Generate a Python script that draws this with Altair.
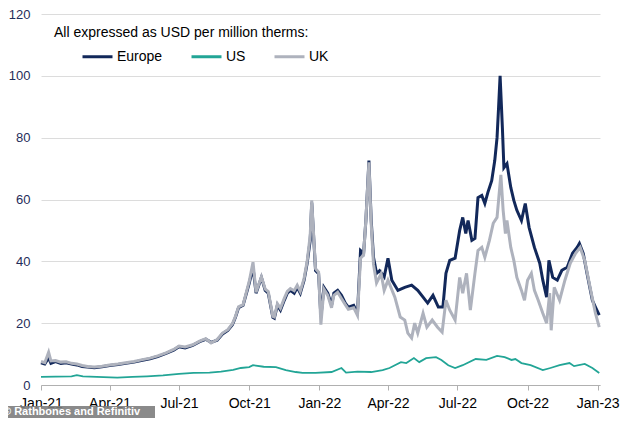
import altair as alt
import pandas as pd

SERIES = ["Europe", "US", "UK"]
COLORS = ["#12285a", "#22a596", "#aeb2bd"]
TITLE = "All expressed as USD per million therms:"
FOOTER = "© Rathbones and Refinitiv"
Y_TICKS = [0, 20, 40, 60, 80, 100, 120]

EU_DATES = [
    "2021-01-01", "2021-01-06", "2021-01-11", "2021-01-14", "2021-01-20", "2021-01-27",
    "2021-02-03", "2021-02-10", "2021-02-17", "2021-02-24",
    "2021-03-03", "2021-03-12", "2021-03-22",
    "2021-04-01", "2021-04-12", "2021-04-22",
    "2021-05-03", "2021-05-14", "2021-05-24",
    "2021-06-03", "2021-06-14", "2021-06-24",
    "2021-07-01", "2021-07-09", "2021-07-19", "2021-07-28",
    "2021-08-05", "2021-08-12", "2021-08-20", "2021-08-27",
    "2021-09-03", "2021-09-09", "2021-09-13", "2021-09-17", "2021-09-23",
    "2021-10-01", "2021-10-06", "2021-10-10", "2021-10-17", "2021-10-22", "2021-10-26",
    "2021-11-01", "2021-11-03", "2021-11-07", "2021-11-11", "2021-11-16", "2021-11-20", "2021-11-24", "2021-11-29",
    "2021-12-03", "2021-12-07", "2021-12-12", "2021-12-16", "2021-12-20", "2021-12-22", "2021-12-27", "2021-12-31",
    "2022-01-03", "2022-01-07", "2022-01-12", "2022-01-17", "2022-01-20", "2022-01-25", "2022-01-30",
    "2022-02-04", "2022-02-08", "2022-02-15", "2022-02-20", "2022-02-24", "2022-02-28",
    "2022-03-03", "2022-03-07", "2022-03-10", "2022-03-13", "2022-03-17", "2022-03-21", "2022-03-27",
    "2022-04-01", "2022-04-06", "2022-04-14", "2022-04-23",
    "2022-05-02", "2022-05-10", "2022-05-17", "2022-05-23", "2022-05-30",
    "2022-06-06", "2022-06-12", "2022-06-16", "2022-06-21", "2022-06-28",
    "2022-07-04", "2022-07-08", "2022-07-12", "2022-07-15", "2022-07-20", "2022-07-24", "2022-07-28",
    "2022-08-02", "2022-08-06", "2022-08-10", "2022-08-15", "2022-08-19", "2022-08-22", "2022-08-24", "2022-08-26", "2022-08-29", "2022-08-31",
    "2022-09-04", "2022-09-09", "2022-09-13", "2022-09-17", "2022-09-23", "2022-09-28",
    "2022-10-03", "2022-10-10", "2022-10-17", "2022-10-21", "2022-10-26", "2022-10-29",
    "2022-11-03", "2022-11-09", "2022-11-15", "2022-11-22", "2022-11-29",
    "2022-12-05", "2022-12-08", "2022-12-13", "2022-12-18", "2022-12-25", "2022-12-29",
    "2023-01-03",
]
EU_VALUES = [
    7.2, 6.8, 8.8, 7.0, 7.6, 7.0,
    7.2, 6.8, 6.5, 6.0,
    5.8, 5.6, 5.9,
    6.3, 6.6, 7.0,
    7.4, 8.0, 8.5,
    9.2, 10.2, 11.3,
    12.4, 12.0, 12.8, 14.0,
    14.8, 13.8, 14.5, 16.5,
    17.7, 19.5, 21.9, 25.0, 25.8,
    32.9, 38.0, 29.7, 34.8, 30.6, 29.7,
    21.9, 21.6, 25.8, 24.2, 27.4, 29.7, 30.6, 29.7,
    31.6, 29.7, 33.9, 39.4, 46.8, 59.0, 37.0, 36.0,
    22.0, 31.6, 29.7, 25.8, 29.7, 30.6, 29.0,
    26.5, 25.2, 25.8, 23.2, 43.5, 42.6,
    53.2, 72.6, 53.2, 41.3, 36.1, 37.0, 35.0,
    41.0, 33.9, 30.6, 31.6,
    32.3, 30.6, 28.4, 26.5, 29.0,
    25.2, 25.2, 36.1, 40.3, 41.0,
    50.0, 54.2, 49.0, 53.2, 46.8, 47.4, 60.6,
    61.3, 58.7, 62.3, 66.1, 72.6, 80.0, 89.7, 100.0, 83.2, 70.3,
    71.6, 63.9, 59.7, 56.5, 53.2, 58.7,
    51.0, 44.5, 39.4, 33.9, 28.4, 40.3,
    34.8, 33.9, 37.1, 38.1, 42.6,
    44.5, 45.8, 42.6, 36.1, 27.4, 25.2,
    22.6,
]

UK_DATES = [
    "2021-01-01", "2021-01-06", "2021-01-11", "2021-01-14", "2021-01-20", "2021-01-27",
    "2021-02-03", "2021-02-10", "2021-02-17", "2021-02-24",
    "2021-03-03", "2021-03-12", "2021-03-22",
    "2021-04-01", "2021-04-12", "2021-04-22",
    "2021-05-03", "2021-05-14", "2021-05-24",
    "2021-06-03", "2021-06-14", "2021-06-24",
    "2021-07-01", "2021-07-09", "2021-07-19", "2021-07-28",
    "2021-08-05", "2021-08-12", "2021-08-20", "2021-08-27",
    "2021-09-03", "2021-09-09", "2021-09-13", "2021-09-17", "2021-09-23",
    "2021-10-01", "2021-10-06", "2021-10-10", "2021-10-17", "2021-10-22", "2021-10-26",
    "2021-11-01", "2021-11-03", "2021-11-07", "2021-11-11", "2021-11-16", "2021-11-20", "2021-11-24", "2021-11-29",
    "2021-12-03", "2021-12-07", "2021-12-12", "2021-12-16", "2021-12-20", "2021-12-22", "2021-12-27", "2021-12-31",
    "2022-01-03", "2022-01-07", "2022-01-12", "2022-01-17", "2022-01-20", "2022-01-25", "2022-01-30",
    "2022-02-04", "2022-02-08", "2022-02-15", "2022-02-20", "2022-02-24", "2022-02-28",
    "2022-03-03", "2022-03-07", "2022-03-10", "2022-03-13", "2022-03-17", "2022-03-23", "2022-03-27",
    "2022-04-01", "2022-04-10", "2022-04-17", "2022-04-23", "2022-04-27",
    "2022-05-02", "2022-05-06", "2022-05-10", "2022-05-17", "2022-05-22", "2022-05-29",
    "2022-06-05", "2022-06-11", "2022-06-16", "2022-06-21", "2022-06-28",
    "2022-07-04", "2022-07-08", "2022-07-13", "2022-07-18", "2022-07-24", "2022-07-28",
    "2022-08-02", "2022-08-06", "2022-08-12", "2022-08-17", "2022-08-22", "2022-08-24", "2022-08-27", "2022-08-30",
    "2022-09-02", "2022-09-04", "2022-09-09", "2022-09-13", "2022-09-17", "2022-09-23", "2022-09-27",
    "2022-10-01", "2022-10-06", "2022-10-10", "2022-10-15", "2022-10-21", "2022-10-26", "2022-10-30",
    "2022-11-01", "2022-11-05", "2022-11-12", "2022-11-19", "2022-11-26",
    "2022-12-03", "2022-12-09", "2022-12-15", "2022-12-22", "2022-12-29",
    "2023-01-03",
]
UK_VALUES = [
    7.6, 7.2, 10.6, 7.8, 7.9, 7.4,
    7.5, 7.0, 6.8, 6.3,
    6.0, 5.8, 6.1,
    6.5, 6.8, 7.2,
    7.6, 8.2, 8.7,
    9.4, 10.4, 11.5,
    12.6, 12.3, 13.0, 14.2,
    15.0, 13.6, 14.7, 16.8,
    17.9, 19.8, 22.2, 25.3, 26.0,
    33.5, 39.7, 30.0, 35.0, 31.0, 30.2,
    22.2, 22.0, 26.3, 24.8, 28.0, 30.3, 31.2, 30.5,
    32.3, 30.3, 34.5, 40.0, 48.5, 59.7, 37.6, 36.5,
    19.5, 31.0, 29.0, 25.0, 29.0, 30.0, 28.0,
    26.0, 24.5, 25.0, 22.5, 41.0, 42.0,
    53.5, 72.0, 52.0, 39.0, 33.0, 36.0, 30.6,
    33.9, 28.4, 22.0, 21.0, 16.8,
    15.2, 20.0, 16.8, 23.2, 18.7, 21.0,
    18.7, 17.1, 27.4, 24.2, 21.0,
    34.8, 29.7, 36.1, 24.2, 36.1, 43.5,
    44.5, 41.3, 46.8, 52.3, 54.2, 59.7, 68.0, 56.5,
    49.0, 53.2, 44.5, 40.3, 34.8, 30.6, 27.4,
    33.9, 36.1, 30.6, 27.4, 23.2, 20.0, 29.7,
    17.7, 31.6, 27.4, 33.9, 39.4,
    42.6, 44.5, 40.3, 31.6, 23.2,
    18.7,
]

US_DATES = [
    "2021-01-01", "2021-01-20", "2021-02-10", "2021-02-17", "2021-02-25", "2021-03-15",
    "2021-04-11", "2021-05-01", "2021-05-20", "2021-06-10", "2021-07-01", "2021-07-20",
    "2021-08-10", "2021-08-25", "2021-09-10", "2021-09-20", "2021-10-01", "2021-10-06",
    "2021-10-20", "2021-11-05", "2021-11-18", "2021-12-01", "2021-12-10", "2021-12-27",
    "2022-01-17", "2022-01-30", "2022-02-05", "2022-02-20", "2022-03-10", "2022-03-25",
    "2022-04-03", "2022-04-18", "2022-04-25", "2022-05-05", "2022-05-12", "2022-05-21",
    "2022-06-03", "2022-06-10", "2022-06-19", "2022-06-28", "2022-07-08", "2022-07-25",
    "2022-08-08", "2022-08-22", "2022-09-01", "2022-09-10", "2022-09-15", "2022-09-23",
    "2022-10-05", "2022-10-21", "2022-10-31", "2022-11-12", "2022-11-25", "2022-12-01",
    "2022-12-15", "2022-12-25", "2023-01-03",
]
US_VALUES = [
    2.6, 2.7, 2.8, 3.2, 2.8, 2.6,
    2.4, 2.6, 2.8, 3.1, 3.6, 3.9,
    4.0, 4.3, 4.9, 5.5, 5.8, 6.4,
    5.9, 5.8, 4.8, 4.2, 3.9, 3.9,
    4.2, 5.5, 4.0, 4.3, 4.2, 4.8,
    5.5, 7.4, 7.1, 8.7, 7.4, 8.7,
    9.0, 8.1, 6.4, 5.5, 6.4, 8.4,
    8.1, 9.4, 9.0, 8.1, 8.4, 7.1,
    6.4, 4.8, 5.5, 6.4, 7.1, 6.1,
    6.8, 5.5, 3.9,
]

frames = []
for name, d, v in [("Europe", EU_DATES, EU_VALUES), ("US", US_DATES, US_VALUES), ("UK", UK_DATES, UK_VALUES)]:
    frames.append(pd.DataFrame({"date": d, "value": v, "series": name}))
df = pd.concat(frames, ignore_index=True)

FONT = "Liberation Sans"
x_ticks = [alt.DateTime(year=y, month=m, date=1, utc=True)
           for y, m in [(2021, 1), (2021, 4), (2021, 7), (2021, 10), (2022, 1),
                        (2022, 4), (2022, 7), (2022, 10), (2023, 1)]]

x_enc = alt.X(
    "date:T",
    scale=alt.Scale(type="utc",
                    domain=[alt.DateTime(year=2021, month=1, date=1, utc=True),
                            alt.DateTime(year=2023, month=1, date=4, utc=True)]),
    axis=alt.Axis(values=x_ticks, format="%b-%y", title=None, grid=False,
                  domainColor="#b0b0b0", tickColor="#b0b0b0", tickSize=5,
                  labelFontSize=14, labelColor="#000000", labelFont=FONT,
                  labelPadding=6, labelFlush=False),
)
y_enc = alt.Y(
    "value:Q",
    scale=alt.Scale(domain=[0, 120], nice=False),
    axis=alt.Axis(values=Y_TICKS, title=None, grid=True, gridColor="#dcdcdc",
                  domain=False, ticks=False, labelFontSize=13, labelColor="#1f2d5a",
                  labelFont=FONT, labelPadding=11),
)
color_enc = alt.Color(
    "series:N",
    scale=alt.Scale(domain=SERIES, range=COLORS),
    legend=alt.Legend(title=None, orient="none", legendX=40, legendY=26,
                      direction="horizontal", symbolType="stroke", symbolSize=900,
                      symbolStrokeWidth=3, labelFontSize=14, labelFont=FONT,
                      labelColor="#000000", columnPadding=22, labelOffset=3, padding=0),
)

base = alt.Chart(df)
eu = base.transform_filter(alt.datum.series == "Europe").mark_line(strokeWidth=3).encode(x=x_enc, y=y_enc, color=color_enc)
us = base.transform_filter(alt.datum.series == "US").mark_line(strokeWidth=1.8).encode(x=x_enc, y=y_enc, color=color_enc)
uk = base.transform_filter(alt.datum.series == "UK").mark_line(strokeWidth=3).encode(x=x_enc, y=y_enc, color=color_enc)

title_txt = alt.Chart(pd.DataFrame({"t": [TITLE]})).mark_text(
    align="left", baseline="middle", fontSize=14, font=FONT, color="#000000"
).encode(text="t:N", x=alt.value(13), y=alt.value(19))

footer_box = alt.Chart(pd.DataFrame({"t": [FOOTER]})).mark_rect(color="#7d7d7d", opacity=0.9).encode(
    x=alt.value(-41), x2=alt.value(114), y=alt.value(392), y2=alt.value(405))
footer_txt = alt.Chart(pd.DataFrame({"t": [FOOTER]})).mark_text(
    align="left", baseline="middle", fontSize=11, font=FONT, fontWeight="bold", color="#ffffff"
).encode(text="t:N", x=alt.value(-38), y=alt.value(398))

chart = alt.layer(eu, us, uk, title_txt, footer_box, footer_txt).properties(
    width=559, height=371,
    autosize=alt.AutoSizeParams(type="none"),
    padding={"left": 33, "top": 6, "right": 26, "bottom": 33},
).configure_view(stroke=None)

chart.save("out.html", embed_options={"renderer": "svg", "actions": False})
